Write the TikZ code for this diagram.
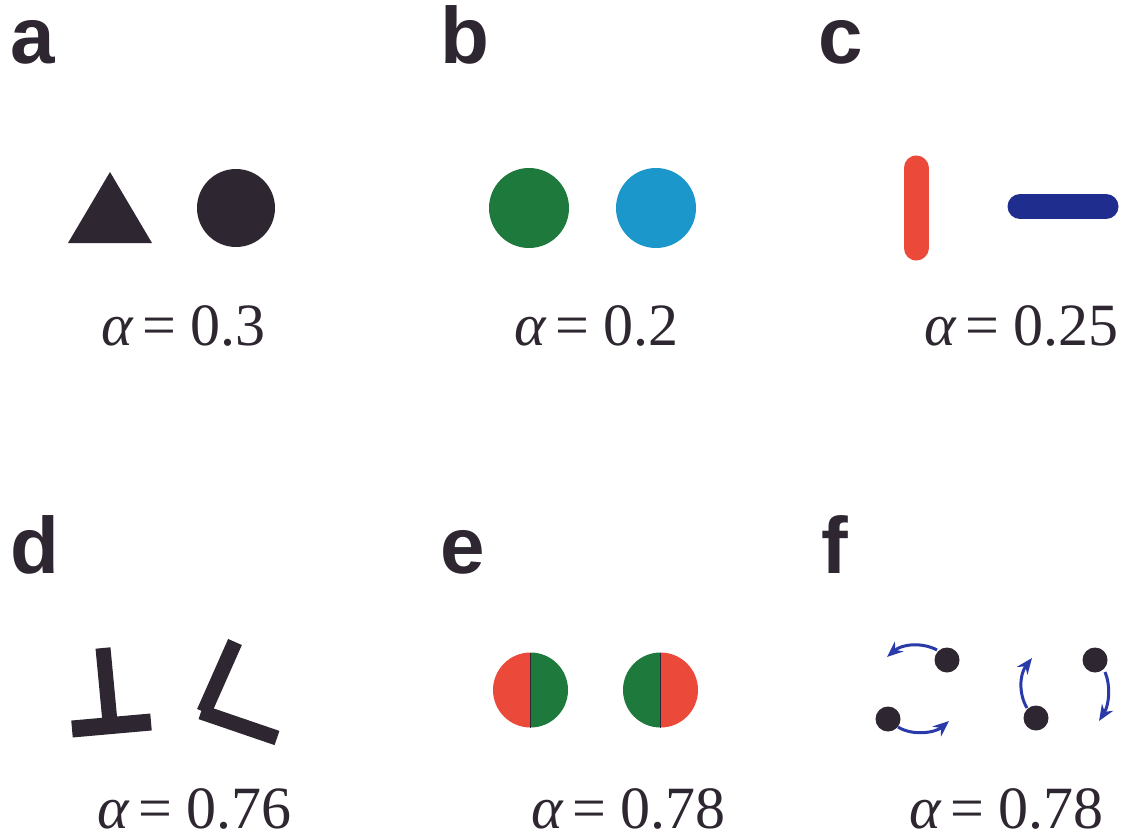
\documentclass[tikz,border=0pt]{standalone}
\usepackage{fontspec}
\setmainfont{Liberation Serif}
\newfontfamily\panelfont{Liberation Sans}
\usetikzlibrary{arrows.meta}
\definecolor{ink}{HTML}{2E2630}
\definecolor{leafgreen}{HTML}{1E7A3C}
\definecolor{skyblue}{HTML}{1C97CB}
\definecolor{brightred}{HTML}{EB4A3A}
\definecolor{navy}{HTML}{1F2D8E}
\definecolor{arrowblue}{HTML}{2A3AA8}
\tikzset{
  paneltag/.style={anchor=base west, inner sep=0pt, text=ink, font=\panelfont\bfseries\fontsize{80}{80}\selectfont},
  alphalabel/.style={anchor=base west, inner sep=0pt, text depth=0pt, text=ink, font=\fontsize{60}{60}\selectfont},
  bar/.style={line width=15pt, ink, line cap=butt},
  rot/.style={arrowblue, line width=3pt, -{Stealth[length=16pt,width=13pt]}},
}
\newcommand{\alphaval}[1]{{\itshape α}\hspace{10pt}=\hspace{14pt}#1}
\begin{document}
\begin{tikzpicture}[x=1pt,y=-1pt]
\useasboundingbox (0,0) rectangle (1131,837);
\fill[white] (0,0) rectangle (1131,837);
% panel tags
\node[paneltag] (ta) at (10,64) {a};
\node[paneltag] (tb) at (440,64) {b};
\node[paneltag] (tc) at (818,64) {c};
\node[paneltag] (td) at (10,573) {d};
\node[paneltag] (te) at (440,573) {e};
\node[paneltag] (tf) at (821,573) {f};
% alpha labels
\node[alphalabel] (la) at (101,345) {\alphaval{0.3}};
\node[alphalabel] (lb) at (514,345) {\alphaval{0.2}};
\node[alphalabel] (lc) at (924,345) {\alphaval{0.25}};
\node[alphalabel] (ld) at (97,828) {\alphaval{0.76}};
\node[alphalabel] (le) at (531,828) {\alphaval{0.78}};
\node[alphalabel] (lf) at (909,828) {\alphaval{0.78}};
% panel a
\fill[ink] (68,243) -- (152,243) -- (110,172) -- cycle;
\fill[ink] (236,208) circle (39pt);
% panel b
\fill[leafgreen] (529,208) circle (40pt);
\fill[skyblue] (656,208) circle (40pt);
% panel c
\draw[brightred, line width=25pt, line cap=round] (916,168) -- (916,248);
\draw[navy, line width=25pt, line cap=round] (1020,206.5) -- (1106,206.5);
% panel d
\draw[bar] (103,648) -- (110,722);
\draw[bar, line width=17pt] (72,729) -- (151,722);
\draw[bar] (235,642) -- (204,712);
\draw[bar] (201,712) -- (277,738);
% panel e
\begin{scope}
  \clip (530.5,690) circle (37.5pt);
  \fill[brightred] (490,650) rectangle (530.5,730);
  \fill[leafgreen] (530.5,650) rectangle (570,730);
\end{scope}
\begin{scope}
  \clip (660.5,690) circle (37.5pt);
  \fill[leafgreen] (620,650) rectangle (660.5,730);
  \fill[brightred] (660.5,650) rectangle (700,730);
\end{scope}
\draw[ink, line width=0.6pt] (530.5,652.5) -- (530.5,727.5);
\draw[ink, line width=0.6pt] (660.5,652.5) -- (660.5,727.5);
% panel f
\coordinate (p1) at (947,660);
\coordinate (p2) at (888,719);
\coordinate (p3) at (1036,718);
\coordinate (p4) at (1095,660);
\foreach \p in {p1,p2,p3,p4} \fill[ink] (\p) circle (12.5pt);
\draw[rot] (937,650) .. controls (922,642) and (902,644) .. (887,657);
\draw[rot] (898,727) .. controls (912,736) and (935,733) .. (949,721);
\draw[rot] (1027,708) .. controls (1019,695) and (1019,675) .. (1032,658);
\draw[rot] (1105,672) .. controls (1111,686) and (1109,705) .. (1099,721);
\end{tikzpicture}
\end{document}
